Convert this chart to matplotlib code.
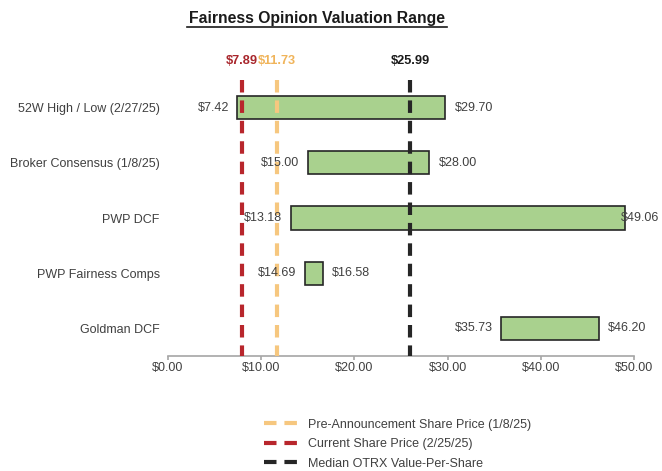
import matplotlib
matplotlib.use('Agg')
import matplotlib.pyplot as plt
from matplotlib.ticker import FuncFormatter

plt.rcParams['font.family'] = ['Liberation Sans', 'DejaVu Sans']

# valuation ranges, top to bottom
categorias = ['52W High / Low (2/27/25)', 'Broker Consensus (1/8/25)', 'PWP DCF',
              'PWP Fairness Comps', 'Goldman DCF']
minimos = [7.42, 15.00, 13.18, 14.69, 35.73]
maximos = [29.70, 28.00, 49.06, 16.58, 46.20]

# reference share prices
linhas_nomes = ['Pre-Announcement Share Price (1/8/25)', 'Current Share Price (2/25/25)',
                'Median OTRX Value-Per-Share']
linhas_valores = [11.73, 7.89, 25.99]
linhas_cores = ['#F6C77F', '#B8262C', '#262626']
rotulo_cores = ['#F0B45A', '#A8262C', '#1a1a1a']

cinza = '#404040'

fig = plt.figure(figsize=(6.62, 4.71), dpi=100)
ax = fig.add_axes([0.2538, 0.2442, 0.7039, 0.5859])

pos = list(range(len(categorias)))
larguras = [hi - lo for lo, hi in zip(minimos, maximos)]
ax.barh(pos, larguras, left=minimos, height=0.42, color='#A9D18E',
        edgecolor='#262626', linewidth=1.2, zorder=2)

for y, lo, hi in zip(pos, minimos, maximos):
    ax.annotate(f'${lo:.2f}', (lo, y), xytext=(-6, 0), textcoords='offset points',
                ha='right', va='center', fontsize=9, color=cinza, zorder=4)
    dx = 7 if hi < 48 else -3
    ax.annotate(f'${hi:.2f}', (hi, y), xytext=(dx, 0), textcoords='offset points',
                ha='left', va='center', fontsize=9, color=cinza, zorder=4,
                annotation_clip=False)

handles = []
trans = ax.get_xaxis_transform()
for nome, v, cor, rc in zip(linhas_nomes, linhas_valores, linhas_cores, rotulo_cores):
    h, = ax.plot([v, v], [-0.5, 4.5], color=cor, lw=3, dashes=(3, 1.9),
                 solid_capstyle='butt', dash_capstyle='butt', zorder=3, label=nome)
    handles.append(h)
    # value label above each line
    ax.text(v, 1.07, f'${v:.2f}', transform=trans, ha='center', va='center',
            fontsize=9.2, fontweight='bold', color=rc)

ax.set_xlim(0, 50)
ax.set_ylim(4.5, -0.5)
ax.set_xticks([0, 10, 20, 30, 40, 50])
ax.xaxis.set_major_formatter(FuncFormatter(lambda v, p: f'${v:.2f}'))
ax.set_yticks(pos)
ax.set_yticklabels(categorias)
ax.tick_params(axis='y', length=0, pad=6, labelsize=9, labelcolor=cinza)
ax.tick_params(axis='x', length=3, width=1.2, color='#A6A6A6', pad=1,
               labelsize=9, labelcolor=cinza)
for s in ['top', 'right', 'left']:
    ax.spines[s].set_visible(False)
ax.spines['bottom'].set_color('#A6A6A6')
ax.spines['bottom'].set_linewidth(1.2)

fig.text(0.479, 0.951, 'Fairness Opinion Valuation Range', ha='center', va='baseline',
         fontsize=11.3, fontweight='bold', color='#1a1a1a')
fig.add_artist(plt.Line2D([0.2825, 0.675], [0.9435, 0.9435], color='#1a1a1a', lw=1.2))

fig.legend(handles=handles, loc='upper left', bbox_to_anchor=(0.399, 0.111),
           frameon=False, borderpad=0, borderaxespad=0, handlelength=2.6,
           handletextpad=0.9, labelspacing=0.6, fontsize=9, labelcolor=cinza)

fig.savefig('out.png', dpi=100)
